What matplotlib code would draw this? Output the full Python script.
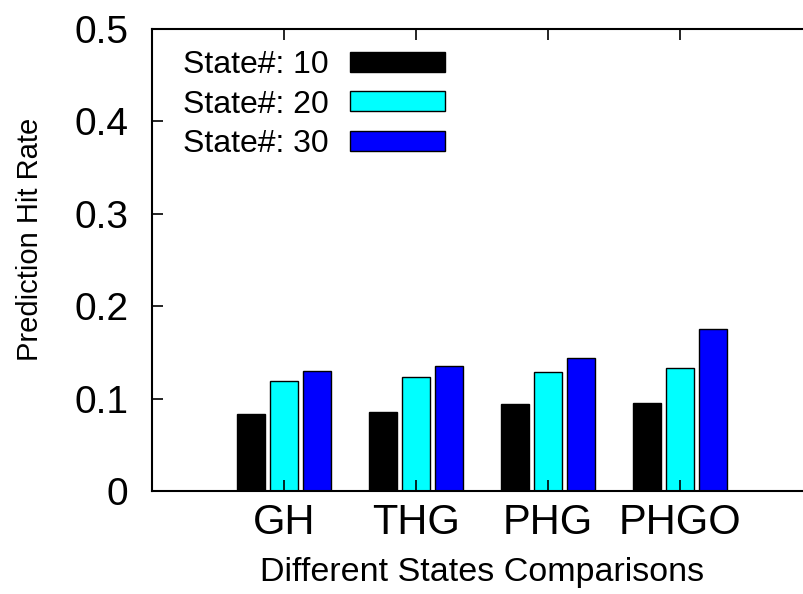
import numpy as np
import matplotlib
matplotlib.use("Agg")
from matplotlib import pyplot as plt

# values
categories = ["GH", "THG", "PHG", "PHGO"]
series_labels = ["State#: 10", "State#: 20", "State#: 30"]
state10 = [0.083, 0.086, 0.094, 0.095]
state20 = [0.119, 0.123, 0.129, 0.133]
state30 = [0.130, 0.135, 0.144, 0.175]
series = [state10, state20, state30]
colors = ["#000000", "#00ffff", "#0000ff"]

plt.rcParams["font.family"] = ["Liberation Sans", "DejaVu Sans"]

fig = plt.figure(figsize=(8.04, 5.94), dpi=100)
# the plot border runs off the right side of the picture, as in the reference
ax = fig.add_axes([152 / 804, 103 / 594, 660 / 804, 462 / 594])

x = np.arange(len(categories))
width = 0.205
offsets = [-0.25, 0.0, 0.25]
for vals, lab, col, off in zip(series, series_labels, colors, offsets):
    ax.bar(x + off, vals, width, color=col, edgecolor="black",
           linewidth=1.0, label=lab)

ax.set_xlim(-1, 4)
ax.set_ylim(0, 0.5)
ax.set_yticks([0, 0.1, 0.2, 0.3, 0.4, 0.5])
ax.set_yticklabels(["0", "0.1", "0.2", "0.3", "0.4", "0.5"])
ax.set_xticks(x)
ax.set_xticklabels(categories)

for s in ax.spines.values():
    s.set_linewidth(1.5)

ax.tick_params(axis="y", direction="in", length=8, width=1.2,
               labelsize=28, pad=17)
ax.tick_params(axis="x", direction="in", length=8, width=1.2,
               labelsize=30, pad=9, top=True)

ax.set_xlabel("Different States Comparisons", fontsize=24.5)
ax.set_ylabel("Prediction Hit Rate", fontsize=21)
ax.xaxis.set_label_coords(0.5, -0.142)
ax.yaxis.set_label_coords(-0.164, 0.545)

leg = ax.legend(loc="upper left", bbox_to_anchor=(183 / 804, 1 - 50 / 594),
                bbox_transform=fig.transFigure, frameon=False,
                markerfirst=False, fontsize=23, handlelength=2.95,
                handleheight=0.6, handletextpad=0.68, labelspacing=0.3,
                borderpad=0, borderaxespad=0)

fig.savefig("out.png", dpi=100)
